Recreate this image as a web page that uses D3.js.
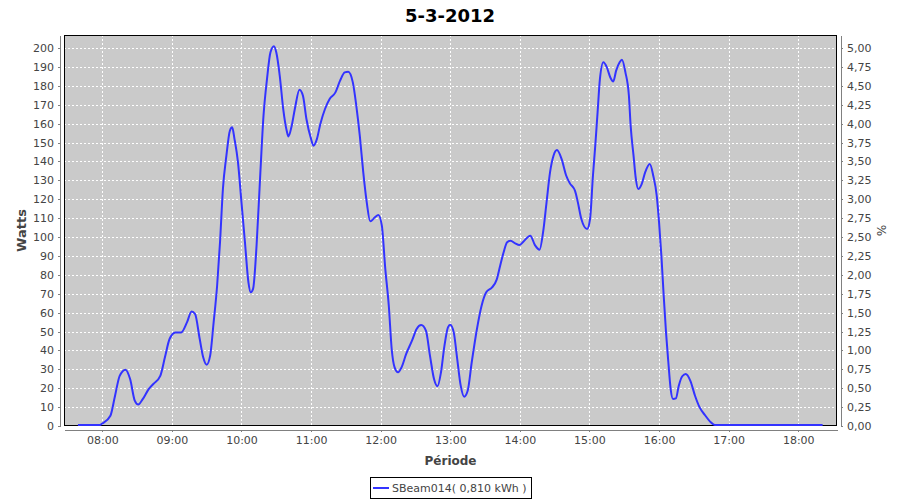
<!DOCTYPE html>
<html>
<head>
<meta charset="utf-8">
<script src="https://cdn.jsdelivr.net/npm/d3@7/dist/d3.min.js"></script>
<style>
  html, body { margin: 0; padding: 0; background: #ffffff; }
  svg { display: block; }
</style>
</head>
<body>
<svg id="chart" width="900" height="500"></svg>
<script>
// ---------------- DATA ----------------
const chartTitle = "5-3-2012";
const seriesName = "SBeam014( 0,810 kWh )";
const xTitle = "Période";
const yTitle = "Watts";
const y2Title = "%";

const times = ["07:39","07:58","08:00","08:07","08:11","08:15","08:20","08:24","08:28","08:31",
  "08:35","08:40","08:44","08:50","08:54","08:58","09:03","09:08","09:13","09:17",
  "09:20","09:24","09:27","09:30","09:33","09:36","09:39","09:41:30","09:44","09:47",
  "09:50","09:52","09:54","09:57","10:00","10:03","10:06","10:08","10:10","10:13",
  "10:16","10:19","10:22","10:25","10:28","10:30","10:33","10:36","10:39","10:40:30",
  "10:43","10:46","10:50","10:53","10:56","11:00","11:02","11:05","11:08","11:12",
  "11:16","11:21","11:25","11:29","11:32","11:36","11:39","11:42","11:45","11:48",
  "11:51","11:55","11:58","12:01","12:04","12:07","12:09:30","12:12","12:15","12:18",
  "12:22","12:27","12:31","12:35","12:39","12:42:30","12:46","12:49","12:52","12:55",
  "12:58","13:00","13:03","13:06","13:09","13:12","13:15","13:18:30","13:23","13:27",
  "13:31","13:36","13:40","13:43","13:46","13:49","13:52","13:56","13:59:30","14:03",
  "14:09","14:13","14:17","14:20","14:23","14:26","14:29","14:32","14:36","14:40",
  "14:43","14:47:30","14:50","14:53","14:58","15:00:30","15:03","15:05","15:07","15:09",
  "15:12","15:15","15:18","15:20:30","15:23","15:26","15:28","15:31","15:34","15:35:30",
  "15:38","15:40","15:42","15:45","15:48","15:52","15:55","15:58","16:00","16:02",
  "16:04","16:06","16:08","16:10","16:12","16:14:30","16:17","16:20","16:23","16:27",
  "16:31","16:35","16:40","16:44","16:48","18:21"];

const watts = [0,0,0.8,4.9,15.5,26,29.3,24.3,12.9,10.8,
  13.8,19,21.7,26,35.8,45.5,49,49,54.3,60.1,
  58.7,45.5,35.8,31.9,36.7,54.3,73.7,96.7,124.9,142.5,
  155.7,157.5,151.3,139,117.8,96.7,75.5,70.2,72,94.9,
  130.2,163.7,183,197.2,200.4,197.2,184.8,167.2,155.7,152.7,
  157.5,167.2,177.4,174.2,161.9,151.3,147.8,151.3,159.3,167.2,
  172.5,176,182.2,186.6,186.9,181.3,168.9,153.1,133.7,117.8,
  107.8,109.9,111.1,105.5,82.5,63.1,40.2,30.5,27.9,30.5,
  37.6,44.6,50.8,52.9,49.9,36.7,24.3,20.5,27.9,42,
  51.7,53.1,49,34.9,20.8,15,18.1,33.2,50.8,63.1,
  70.2,72.8,76.9,84.3,91.4,96.7,97.5,96.1,95.2,97,
  100.2,95.2,92.8,101.9,117.8,133.7,142.5,145.5,140.7,131.9,
  128,124,117.8,109,103.7,109,131.9,147.8,165.4,183,
  191.9,189.2,183.9,181.8,187.5,191.9,193.3,186.6,174.2,158.4,
  142.5,130.2,124.9,127.5,133.7,138.1,131.9,121.3,107.2,89.6,
  68.4,49,33.2,19,13.8,14.1,20.8,25.8,27,23.4,
  15.5,9.3,4.9,1.8,0,0];

const hourTicks = ["08:00","09:00","10:00","11:00","12:00","13:00","14:00","15:00","16:00","17:00","18:00"];
const wattTicks = d3.range(0, 201, 10);
const pctTicks = d3.range(0, 5.001, 0.25);
const xDomain = ["07:27:00", "18:33:24"];
const yMax = 206.9;
const pctPerWatt = 1 / 40;

// ---------------- LAYOUT ----------------
const W = 900, H = 500;
const plot = { left: 64, right: 837, top: 35, bottom: 426 };
const axisOffset = 4;
const font = "'DejaVu Sans', Verdana, sans-serif";

const svg = d3.select("#chart");

const pMin = d3.timeParse("%H:%M");
const pSec = d3.timeParse("%H:%M:%S");
const parse = s => (s.length > 5 ? pSec(s) : pMin(s));

const data = times.map((t, i) => ({ t: parse(t), v: watts[i] }));

const x = d3.scaleTime().domain(xDomain.map(parse)).range([plot.left, plot.right]);
const y = d3.scaleLinear().domain([0, yMax]).range([plot.bottom, plot.top]);
const y2 = d3.scaleLinear().domain([0, yMax * pctPerWatt]).range([plot.bottom, plot.top]);

// plot background
svg.append("rect")
  .attr("x", plot.left).attr("y", plot.top)
  .attr("width", plot.right - plot.left).attr("height", plot.bottom - plot.top)
  .attr("fill", "#cacaca");

// gridlines
const grid = svg.append("g").attr("stroke", "#ffffff").attr("stroke-width", 1)
  .attr("stroke-dasharray", "2,2").attr("shape-rendering", "crispEdges");
grid.selectAll("line.h").data(wattTicks.filter(d => d > 0)).join("line")
  .attr("x1", plot.left).attr("x2", plot.right)
  .attr("y1", d => Math.round(y(d)) + 0.5).attr("y2", d => Math.round(y(d)) + 0.5);
grid.selectAll("line.v").data(hourTicks.map(parse)).join("line")
  .attr("y1", plot.top).attr("y2", plot.bottom)
  .attr("x1", d => Math.round(x(d)) + 0.5).attr("x2", d => Math.round(x(d)) + 0.5);

// plot border
svg.append("rect")
  .attr("x", plot.left + 0.5).attr("y", plot.top + 0.5)
  .attr("width", plot.right - plot.left - 1).attr("height", plot.bottom - plot.top - 1)
  .attr("fill", "none").attr("stroke", "#000000").attr("stroke-width", 1)
  .attr("shape-rendering", "crispEdges");

// line (drawn over the border, as in the original)
const clipId = "plotclip";
svg.append("clipPath").attr("id", clipId).append("rect")
  .attr("x", plot.left).attr("y", plot.top)
  .attr("width", plot.right - plot.left).attr("height", plot.bottom - plot.top);

const line = d3.line().x(d => x(d.t)).y(d => y(d.v) - 1).curve(d3.curveMonotoneX);
svg.append("path").datum(data)
  .attr("clip-path", `url(#${clipId})`)
  .attr("fill", "none").attr("stroke", "#3333ff").attr("stroke-width", 2)
  .attr("stroke-linejoin", "round")
  .attr("d", line);

// axes
function styleAxis(g) {
  g.selectAll(".domain").attr("stroke", "#808080").attr("shape-rendering", "crispEdges");
  g.selectAll(".tick line").attr("stroke", "#808080").attr("shape-rendering", "crispEdges");
  g.selectAll(".tick text").attr("fill", "#444444").style("font-family", font).style("font-size", "11px");
}

const fmtTime = d3.timeFormat("%H:%M");
const xAxis = d3.axisBottom(x).tickValues(hourTicks.map(parse)).tickFormat(fmtTime)
  .tickSize(2).tickSizeOuter(0).tickPadding(4);
svg.append("g").attr("transform", `translate(0,${plot.bottom + axisOffset})`)
  .call(xAxis).call(styleAxis);

const yAxis = d3.axisLeft(y).tickValues(wattTicks).tickFormat(d3.format("d"))
  .tickSize(2).tickSizeOuter(0).tickPadding(4);
svg.append("g").attr("transform", `translate(${plot.left - axisOffset},0)`)
  .call(yAxis).call(styleAxis);

const fmtPct = d => d.toFixed(2).replace(".", ",");
const y2Axis = d3.axisRight(y2).tickValues(pctTicks).tickFormat(fmtPct)
  .tickSize(2).tickSizeOuter(0).tickPadding(4);
svg.append("g").attr("transform", `translate(${plot.right + axisOffset},0)`)
  .call(y2Axis).call(styleAxis);

// titles
svg.append("text")
  .attr("x", W / 2).attr("y", 22)
  .attr("text-anchor", "middle")
  .style("font-family", font).style("font-size", "18px").style("font-weight", "bold")
  .attr("fill", "#000000")
  .text(chartTitle);

svg.append("text")
  .attr("x", (plot.left + plot.right) / 2).attr("y", 465)
  .attr("text-anchor", "middle")
  .style("font-family", font).style("font-size", "12px").style("font-weight", "bold")
  .attr("fill", "#444444")
  .text(xTitle);

svg.append("text")
  .attr("transform", `translate(26,${(plot.top + plot.bottom) / 2}) rotate(-90)`)
  .attr("text-anchor", "middle")
  .style("font-family", font).style("font-size", "13px").style("font-weight", "bold")
  .attr("fill", "#444444")
  .text(yTitle);

svg.append("text")
  .attr("transform", `translate(877,${(plot.top + plot.bottom) / 2}) rotate(90)`)
  .attr("text-anchor", "middle")
  .style("font-family", font).style("font-size", "12px")
  .attr("fill", "#444444")
  .text(y2Title);

// legend
const legend = svg.append("g");
const legText = legend.append("text")
  .attr("x", 0).attr("y", 0)
  .style("font-family", font).style("font-size", "11px")
  .attr("fill", "#444444")
  .text(seriesName);
const tw = legText.node().getComputedTextLength();
const sampleW = 16, gap = 3, padL = 3, padR = 4;
const boxW = padL + sampleW + gap + tw + padR;
const boxX = Math.round(W / 2 - boxW / 2);
const boxY = 477, boxH = 21;
legend.insert("rect", "text")
  .attr("x", boxX + 0.5).attr("y", boxY + 0.5)
  .attr("width", Math.round(boxW)).attr("height", boxH)
  .attr("fill", "#ffffff").attr("stroke", "#000000").attr("stroke-width", 1)
  .attr("shape-rendering", "crispEdges");
legend.append("line")
  .attr("x1", boxX + padL).attr("x2", boxX + padL + sampleW)
  .attr("y1", boxY + 11).attr("y2", boxY + 11)
  .attr("stroke", "#3333ff").attr("stroke-width", 2);
legText.attr("x", boxX + padL + sampleW + gap).attr("y", boxY + 15);
</script>
</body>
</html>
